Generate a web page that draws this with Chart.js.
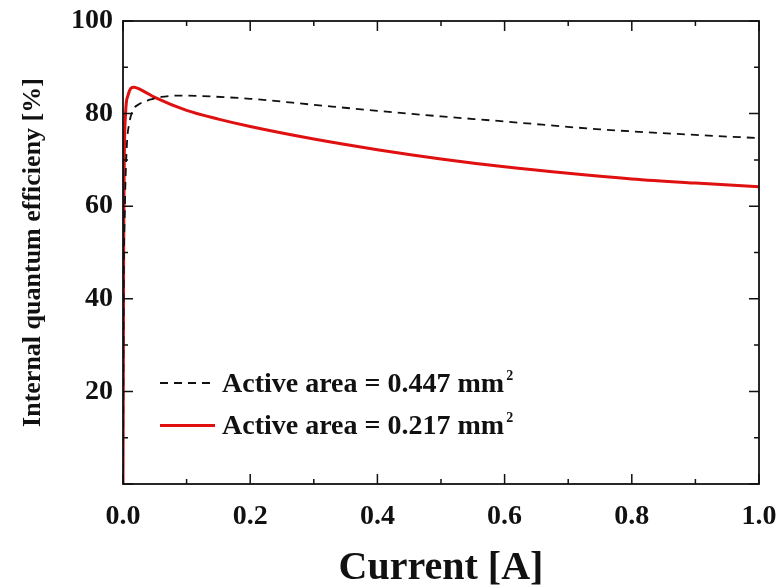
<!DOCTYPE html>
<html>
<head>
<meta charset="utf-8">
<script src="https://cdn.jsdelivr.net/npm/chart.js@4"></script>
<style>
  html, body { margin: 0; padding: 0; background: #fff; }
  #wrap { position: relative; width: 780px; height: 585px; }
  #legend { position: absolute; left: 160px; top: 362px; font: bold 28px "Liberation Serif", serif; color: #111; }
  .row { display: flex; align-items: center; height: 42px; }
  .row .sw { width: 55px; margin-right: 7px; height: 2px; }
  .dash { background: repeating-linear-gradient(90deg, #111 0 8px, transparent 8px 14px); }
  .solid { background: #e01010; height: 3px !important; }
  sup { font-size: 14px; position: relative; top: -2px; margin-left: 2px; }
</style>
</head>
<body>
<div id="wrap">
  <canvas id="c" width="780" height="585"></canvas>
  <div id="legend">
    <div class="row"><div class="sw dash"></div><span>Active area = 0.447 mm<sup>2</sup></span></div>
    <div class="row"><div class="sw solid"></div><span>Active area = 0.217 mm<sup>2</sup></span></div>
  </div>
</div>
<script>
// current [A] and internal quantum efficiency [%]
const currentLarge = [0, 0.001, 0.003, 0.006, 0.01, 0.016, 0.025, 0.042, 0.06, 0.09, 0.12, 0.2, 0.3, 0.4, 0.5, 0.6, 0.75, 0.9, 1.0];
const iqeLarge     = [0, 40, 60, 73, 78, 80.8, 82, 83, 83.6, 83.9, 83.8, 83.2, 81.9, 80.6, 79.4, 78.3, 76.6, 75.4, 74.7];
const currentSmall = [0, 0.001, 0.002, 0.004, 0.008, 0.017, 0.026, 0.05, 0.1, 0.15, 0.2, 0.3, 0.4, 0.5, 0.6, 0.7, 0.8, 0.9, 1.0];
const iqeSmall     = [0, 50, 70, 80, 84, 85.7, 85.3, 83.5, 80.7, 78.8, 77.2, 74.5, 72.2, 70.2, 68.5, 67.1, 65.9, 65.0, 64.2];
const xTicks = [0, 0.2, 0.4, 0.6, 0.8, 1.0];
const yTicks = [20, 40, 60, 80, 100];

const pts = (xs, ys) => xs.map((x, i) => ({ x, y: ys[i] }));
const font = (size) => ({ family: '"Liberation Serif", "Times New Roman", serif', size, weight: 'bold' });

// inward ticks on all four sides, major + minor
const inTicks = {
  id: 'inTicks',
  afterDatasetsDraw(chart) {
    const { ctx, chartArea: a, scales: { x, y } } = chart;
    ctx.save();
    ctx.strokeStyle = '#111';
    ctx.lineWidth = 1.5;
    ctx.beginPath();
    for (let v = 0; v <= 1.0001; v += 0.1) {
      const px = x.getPixelForValue(v);
      const len = Math.round(v * 10) % 2 === 0 ? 10 : 5;
      ctx.moveTo(px, a.bottom); ctx.lineTo(px, a.bottom - len);
      ctx.moveTo(px, a.top); ctx.lineTo(px, a.top + len);
    }
    for (let v = 0; v <= 100; v += 10) {
      const py = y.getPixelForValue(v);
      const len = v % 20 === 0 ? 10 : 5;
      ctx.moveTo(a.left, py); ctx.lineTo(a.left + len, py);
      ctx.moveTo(a.right, py); ctx.lineTo(a.right - len, py);
    }
    ctx.stroke();
    ctx.lineWidth = 1.8;
    ctx.strokeRect(a.left, a.top, a.right - a.left, a.bottom - a.top);
    ctx.restore();
  }
};

new Chart(document.getElementById('c'), {
  type: 'line',
  data: {
    datasets: [
      { label: 'Active area = 0.447 mm2', data: pts(currentLarge, iqeLarge), borderColor: '#111', borderWidth: 1.8, borderDash: [8, 6], cubicInterpolationMode: 'monotone', pointRadius: 0 },
      { label: 'Active area = 0.217 mm2', data: pts(currentSmall, iqeSmall), borderColor: '#e01010', borderWidth: 3, cubicInterpolationMode: 'monotone', pointRadius: 0 }
    ]
  },
  options: {
    responsive: false,
    animation: false,
    layout: { padding: { top: 21, right: 21, left: 0, bottom: 0 } },
    plugins: { legend: { display: false }, tooltip: { enabled: false } },
    scales: {
      x: {
        type: 'linear', min: 0, max: 1,
        afterBuildTicks: s => { s.ticks = xTicks.map(v => ({ value: v })); },
        afterFit: s => { s.height = 101; s.paddingLeft = 0; s.paddingRight = 0; },
        grid: { display: false, drawTicks: false },
        border: { display: false },
        ticks: { color: '#111', font: font(28), padding: 16, maxRotation: 0, callback: v => v.toFixed(1) },
        title: { display: true, text: 'Current [A]', color: '#111', font: font(40), padding: { top: 0, bottom: -8 } }
      },
      y: {
        min: 0, max: 100,
        afterBuildTicks: s => { s.ticks = yTicks.map(v => ({ value: v })); },
        afterFit: s => { s.width = 123; s.paddingTop = 0; s.paddingBottom = 0; },
        grid: { display: false, drawTicks: false },
        border: { display: false },
        ticks: { color: '#111', font: font(28), padding: 10 },
        title: { display: true, text: 'Internal quantum efficieny [%]', color: '#111', font: font(26), padding: { top: 18, bottom: 0 } }
      }
    }
  },
  plugins: [inTicks]
});
</script>
</body>
</html>
